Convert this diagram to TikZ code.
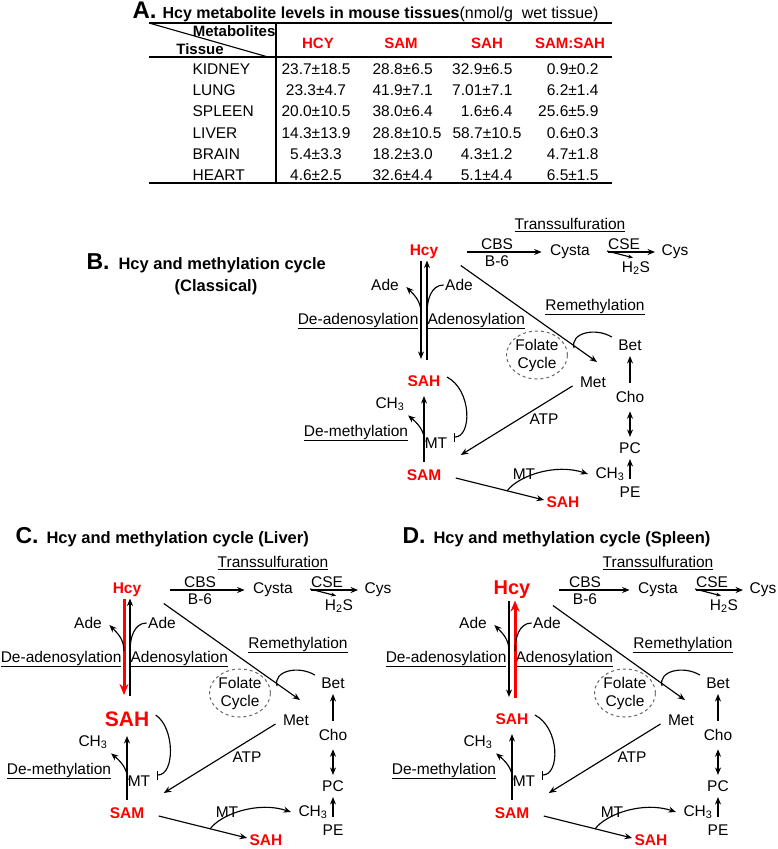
\documentclass[tikz,border=0pt]{standalone}
\usepackage{fontspec}
\setmainfont{Liberation Sans}
\usetikzlibrary{arrows.meta,shapes.geometric}

% one methylation cycle, drawn at the position of panel B
\newcommand{\hcycycle}{%
  \node[hcyname] (hcy) at (424,252) {Hcy};
  \node[sahname] (sah) at (424,381) {SAH};
  \node[redname] (sam) at (424,475) {SAM};
  \node[redname] (sahb) at (563,502) {SAH};
  \node (adel) at (385,285) {Ade};
  \node (ader) at (459,285) {Ade};
  \node[anchor=east] (deaden) at (420,321) {\underline{De-adenosylation}};
  \node[anchor=west] (aden) at (426,321) {\underline{Adenosylation}};
  \node (trans) at (570,225) {\underline{Transsulfuration}};
  \node (cbs) at (497,244) {CBS};
  \node (bsix) at (497,261) {B-6};
  \node (cysta) at (570,252) {Cysta};
  \node (cse) at (624,244) {CSE};
  \node (hts) at (636,268) {H\textsubscript{2}S};
  \node (cys) at (675,252) {Cys};
  \node (remeth) at (595,307) {\underline{Remethylation}};
  \node[folate] (fol) at (537,355) {Folate\\Cycle};
  \node (bet) at (630,345) {Bet};
  \node (met) at (593,382) {Met};
  \node (cho) at (630,397) {Cho};
  \node (pc) at (630,448) {PC};
  \node (pe) at (630,492) {PE};
  \node[anchor=east] (methb) at (626,474) {CH\textsubscript{3}};
  \node (metha) at (390,404) {CH\textsubscript{3}};
  \node (mta) at (436,443) {MT};
  \node (mtb) at (524,474) {MT};
  \node (demeth) at (356,433) {\underline{De-methylation}};
  \node (atp) at (544,419) {ATP};
  \coordinate (adeforkl) at (421,313);
  \coordinate (adeforkr) at (427,313);
  \coordinate (csefork) at (607,251);
  \coordinate (betjoin) at (574,348);
  \coordinate (ch3fork) at (425,442);
  \coordinate (mtbar) at (454,437);
  \coordinate (mtfork) at (507,491);
  \draw[downflow, shorten >=15pt] ([xshift=-3pt]hcy.south) -- ([xshift=-3pt]sah.north);
  \draw[upflow, shorten <=14pt] ([xshift=3pt]sah.north) -- ([xshift=3pt]hcy.south);
  \draw[->] (adeforkl) to[out=90,in=-45] ([shift={(6,2)}]adel.east);
  \draw (ader.west) to[out=180,in=90] (adeforkr);
  \draw[->, shorten <=6pt, shorten >=8pt] (sam.north) -- (sah.south);
  \draw[->] (ch3fork) to[out=95,in=-40] ([shift={(2,3)}]metha.south east);
  \draw[-{Bar[width=9pt]}] ([shift={(5,-4)}]sah.east) .. controls (472,390) and (472,437) .. (mtbar);
  \draw[->, shorten <=27pt, shorten >=7pt] (hcy.east) -- (cysta.west);
  \draw[->, shorten <=17pt, shorten >=5pt] (cysta.east) -- (cys.west);
  \draw[-{Stealth[length=5pt,width=4pt]}] (csefork) -- ([shift={(-3,-2)}]hts.north);
  \draw[->] ([shift={(21,5)}]hcy.south east) -- ([shift={(4,-13)}]met.north);
  \draw ([shift={(-5,-8)}]bet.west) .. controls (595,327) and (570,333) .. (betjoin);
  \draw[->, shorten <=7pt, shorten >=4pt] (cho.north) -- (bet.south);
  \draw[<->, shorten <=7pt, shorten >=4pt] (cho.south) -- (pc.north);
  \draw[->, shorten <=6pt, shorten >=4pt] (pe.north) -- (pc.south);
  \draw[->] ([shift={(-6,-3)}]met.south west) -- ([shift={(18,-20)}]sam.east);
  \draw[->] ([shift={(13,3)}]sam.east) -- ([shift={(-1,-2)}]sahb.west);
  \draw[->] (mtfork) .. controls (518,476) and (555,463) .. ([xshift=-6pt]methb.west);
}

\begin{document}
\begin{tikzpicture}[x=1pt, y=-1pt, line width=1.15pt, >={Stealth[length=7.5pt,width=6pt]},
  every node/.style={font=\fontsize{15.5}{17}\selectfont, inner sep=1pt},
  redname/.style={text=red, font=\bfseries\fontsize{15.5}{17}\selectfont},
  hcyname/.style={redname}, sahname/.style={redname},
  downflow/.style={->}, upflow/.style={->},
  redflow/.style={red, line width=3pt, -{Stealth[length=11pt,width=9pt]}},
  folate/.style={ellipse, draw=black!60, dashed, line width=1pt, minimum width=57pt, minimum height=48pt, inner sep=0pt, align=center, font=\fontsize{15.5}{18}\selectfont},
  panel/.style={anchor=base west, font=\bfseries\fontsize{23}{25}\selectfont},
  ttl/.style={anchor=base west, font=\bfseries\fontsize{16.5}{19}\selectfont},
  hdr/.style={font=\bfseries\fontsize{15}{17}\selectfont}]

\useasboundingbox (0,0) rectangle (777,849);

% A: table
\node[panel, font=\bfseries\fontsize{24}{26}\selectfont] (alabel) at (131,18) {A.};
\node[ttl, font=\bfseries\fontsize{16}{19}\selectfont] (atitle) at (161,18) {Hcy metabolite levels in mouse tissues{\mdseries(nmol/g\hspace{9pt}wet tissue)}};
\draw (149,23) -- (612,23);
\draw (149,23) -- (268,57);
\draw (149,57) -- (612,57);
\draw (276,23) -- (276,183);
\draw (149,183) -- (612,183);
\node[hdr, anchor=east] (metab) at (277,31) {Metabolites};
\node[hdr] (tissue) at (200,49) {Tissue};
\node[hdr, text=red] (hhcy) at (318,43) {HCY};
\node[hdr, text=red] (hsam) at (401,43) {SAM};
\node[hdr, text=red] (hsah) at (487,43) {SAH};
\node[hdr, text=red] (hratio) at (570,43) {SAM:SAH};
\foreach \tis/\vhcy/\vsam/\vsah/\sx/\vrat [count=\r] in {
  KIDNEY/23.7±18.5/28.8±6.5/32.9±6.5/514/0.9±0.2,
  LUNG/23.3±4.7/41.9±7.1/7.01±7.1/514/6.2±1.4,
  SPLEEN/20.0±10.5/38.0±6.4/1.6±6.4/514/25.6±5.9,
  LIVER/14.3±13.9/28.8±10.5/58.7±10.5/523/0.6±0.3,
  BRAIN/5.4±3.3/18.2±3.0/4.3±1.2/514/4.7±1.8,
  HEART/4.6±2.5/32.6±4.4/5.1±4.4/514/6.5±1.5}{
  \pgfmathsetmacro\ry{48+21.2*\r}
  \node[anchor=west] (tis\r) at (191,\ry) {\tis};
  \node (hcy\r) at (316,\ry) {\vhcy};
  \node[anchor=west] (sam\r) at (371,\ry) {\vsam};
  \node[anchor=east] (sah\r) at (\sx,\ry) {\vsah};
  \node[anchor=east] (rat\r) at (600,\ry) {\vrat};
}

% B: classical
\node[panel] (blabel) at (85,269) {B.};
\node[ttl] (btitle) at (117,269) {Hcy and methylation cycle};
\node[ttl, anchor=base] (bsub) at (216,291) {(Classical)};
\begin{scope}[name prefix=b-]
  \hcycycle
\end{scope}

% C: liver
\node[panel] (clabel) at (14,543) {C.};
\node[ttl] (ctitle) at (45,543) {Hcy and methylation cycle (Liver)};
\begin{scope}[shift={(-297,338)}, name prefix=c-,
  sahname/.style={redname, font=\bfseries\fontsize{21}{23}\selectfont},
  downflow/.style={redflow}]
  \hcycycle
\end{scope}

% D: spleen
\node[panel] (dlabel) at (401,543) {D.};
\node[ttl] (dtitle) at (432,543) {Hcy and methylation cycle (Spleen)};
\begin{scope}[shift={(88,338)}, name prefix=d-,
  hcyname/.style={redname, font=\bfseries\fontsize{20}{22}\selectfont},
  upflow/.style={redflow}]
  \hcycycle
\end{scope}

\end{tikzpicture}
\end{document}
